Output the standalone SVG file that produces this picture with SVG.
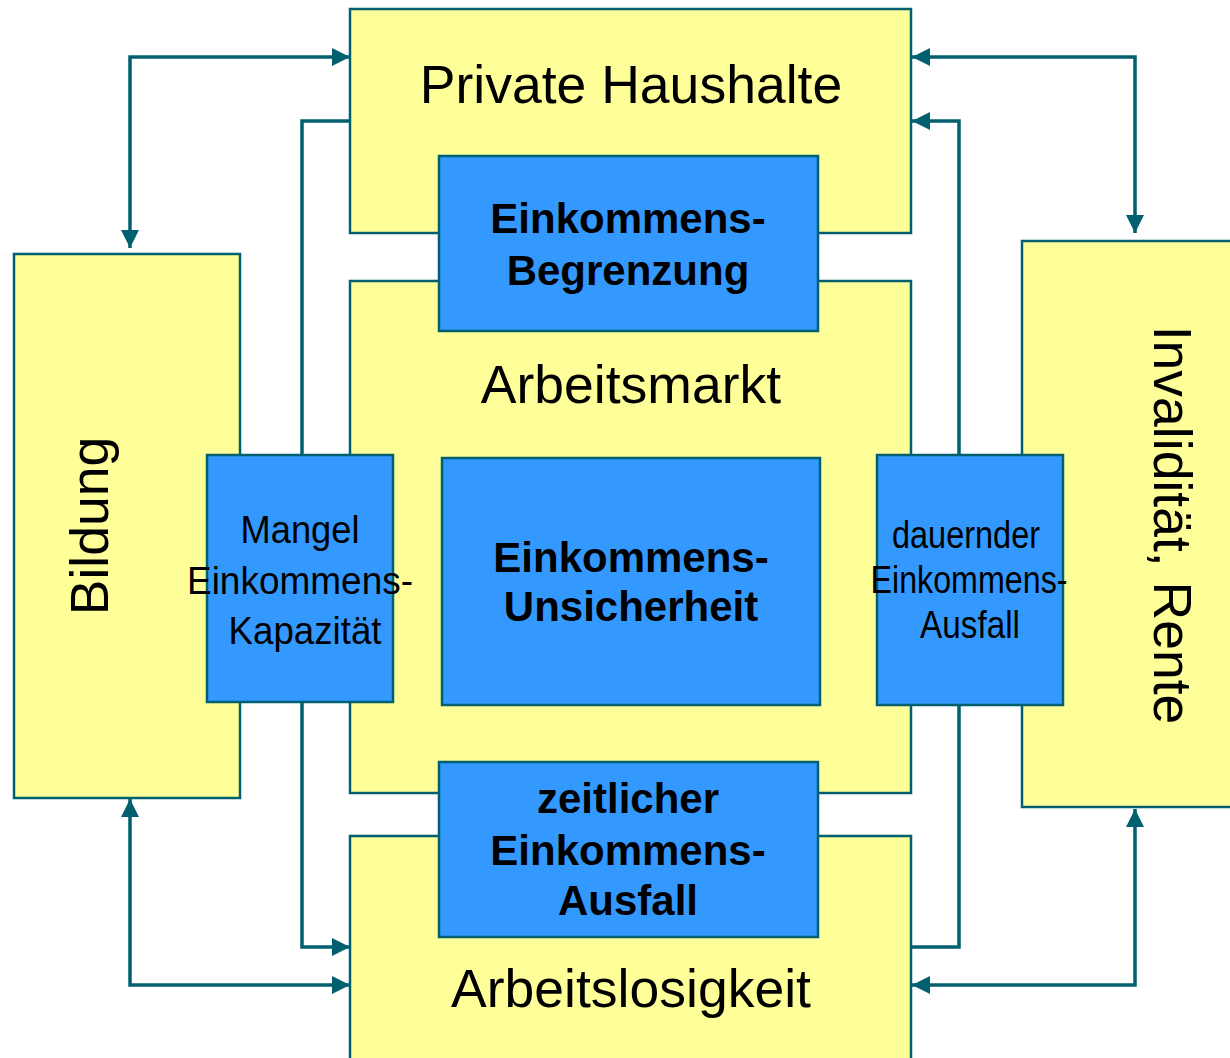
<svg xmlns="http://www.w3.org/2000/svg" width="1230" height="1058" viewBox="0 0 1230 1058">
<style>
.y{fill:#FFFF99;stroke:#006070;stroke-width:2.5}
.b{fill:#3399FF;stroke:#006070;stroke-width:2.5}
.c{fill:none;stroke:#006070;stroke-width:3.5}
.t{font-family:"Liberation Sans",Arial,sans-serif;fill:#000;text-anchor:middle}
.big{font-size:53.5px}
.bold{font-size:42px;font-weight:bold}
.nar{font-size:38px}
</style>
<defs>
<marker id="ah" markerUnits="userSpaceOnUse" markerWidth="22" markerHeight="22" viewBox="0 0 22 22" refX="19" refY="11" orient="auto-start-reverse">
<path d="M1,2 L19,11 L1,20 Z" fill="#006070"/>
</marker>
</defs>
<rect width="1230" height="1058" fill="#fff"/>
<g id="private-haushalte">
<rect class="y" x="350" y="9" width="561" height="224"/>
<text class="t big" x="631" y="103">Private Haushalte</text>
</g>
<g id="arbeitsmarkt">
<rect class="y" x="350" y="281" width="561" height="512"/>
<text class="t big" x="631" y="403">Arbeitsmarkt</text>
</g>
<g id="arbeitslosigkeit">
<rect class="y" x="350" y="836" width="561" height="230"/>
<text class="t big" x="631" y="1007">Arbeitslosigkeit</text>
</g>
<g id="bildung">
<rect class="y" x="14" y="254" width="226" height="544"/>
<text class="t big" transform="translate(108,526) rotate(-90)">Bildung</text>
</g>
<g id="invaliditaet">
<rect class="y" x="1022" y="241" width="215" height="566"/>
<text class="t big" transform="translate(1154,525) rotate(90)">Invalidität, Rente</text>
</g>
<g id="connectors">
<path class="c" d="M130,248 L130,57 L350,57" marker-start="url(#ah)" marker-end="url(#ah)"/>
<path class="c" d="M350,121 L302,121 L302,947 L350,947" marker-end="url(#ah)"/>
<path class="c" d="M130,799 L130,985 L350,985" marker-start="url(#ah)" marker-end="url(#ah)"/>
<path class="c" d="M912,57 L1135,57 L1135,233" marker-start="url(#ah)" marker-end="url(#ah)"/>
<path class="c" d="M911,947 L959,947 L959,121 L912,121" marker-end="url(#ah)"/>
<path class="c" d="M912,985 L1135,985 L1135,809" marker-start="url(#ah)" marker-end="url(#ah)"/>
</g>
<g id="einkommens-begrenzung">
<rect class="b" x="439" y="156" width="379" height="175"/>
<text class="t bold" x="628" y="233">Einkommens-</text>
<text class="t bold" x="628" y="285">Begrenzung</text>
</g>
<g id="einkommens-unsicherheit">
<rect class="b" x="442" y="458" width="378" height="247"/>
<text class="t bold" x="631" y="572">Einkommens-</text>
<text class="t bold" x="631" y="621">Unsicherheit</text>
</g>
<g id="zeitlicher-einkommens-ausfall">
<rect class="b" x="439" y="762" width="379" height="175"/>
<text class="t bold" x="628" y="813">zeitlicher</text>
<text class="t bold" x="628" y="865">Einkommens-</text>
<text class="t bold" x="628" y="915">Ausfall</text>
</g>
<g id="mangel-einkommens-kapazitaet">
<rect class="b" x="207" y="455" width="186" height="247"/>
<text class="t nar" x="300" y="543" textLength="119" lengthAdjust="spacingAndGlyphs">Mangel</text>
<text class="t nar" x="300" y="594" textLength="226" lengthAdjust="spacingAndGlyphs">Einkommens-</text>
<text class="t nar" x="305" y="644" textLength="153" lengthAdjust="spacingAndGlyphs">Kapazität</text>
</g>
<g id="dauernder-einkommens-ausfall">
<rect class="b" x="877" y="455" width="186" height="250"/>
<text class="t nar" x="966" y="548" font-size="35" textLength="148" lengthAdjust="spacingAndGlyphs">dauernder</text>
<text class="t nar" x="969" y="593" font-size="35" textLength="197" lengthAdjust="spacingAndGlyphs">Einkommens-</text>
<text class="t nar" x="970" y="638" font-size="35" textLength="100" lengthAdjust="spacingAndGlyphs">Ausfall</text>
</g>
</svg>
